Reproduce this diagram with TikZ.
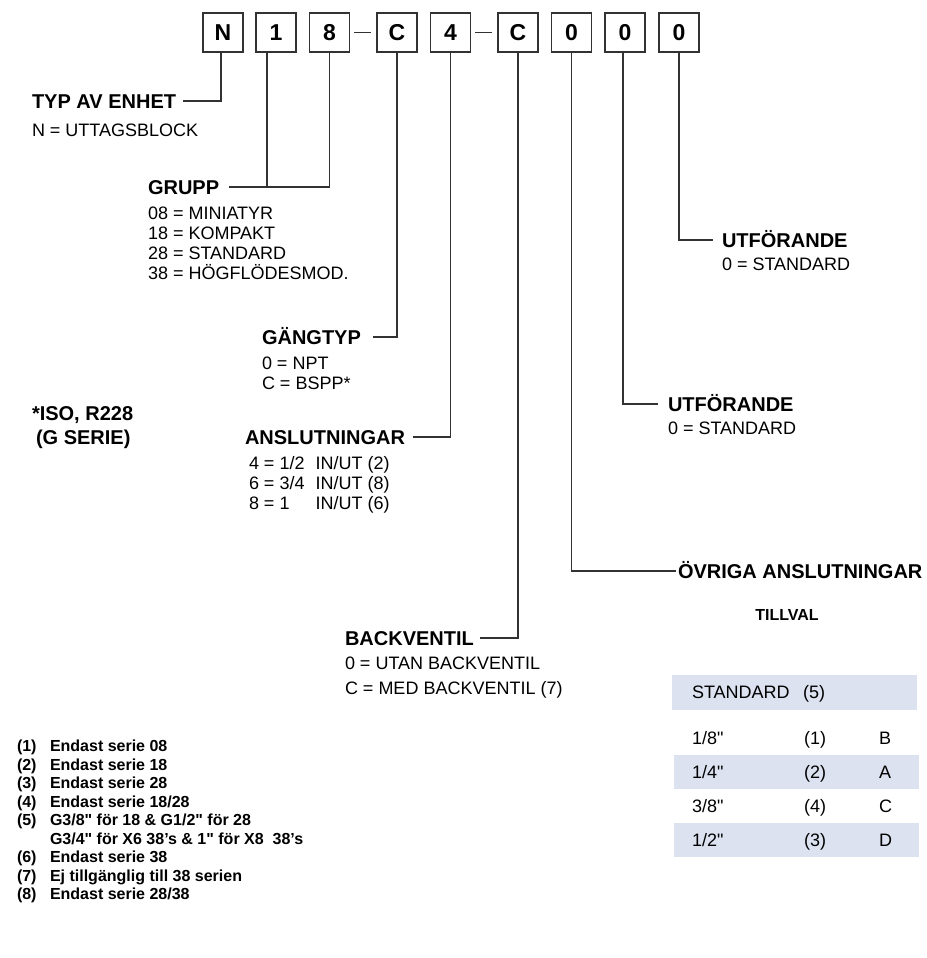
\documentclass[tikz,border=0pt]{standalone}
\usepackage{fontspec}
\setmainfont{Liberation Sans}[Ligatures=TeXOff]
\definecolor{band}{RGB}{220,226,240}
\definecolor{ln}{RGB}{50,50,50}
\newcommand\colw[1]{\makebox[36pt][l]{#1}}
\begin{document}
\begin{tikzpicture}[x=1pt,y=-1pt,
  digit/.style={draw=ln, line width=1.3pt, minimum width=40pt, minimum height=39pt, inner sep=0pt, font=\fontsize{23}{26}\selectfont\bfseries},
  head/.style={anchor=west, inner sep=0pt, outer sep=0pt, text height=14pt, text depth=0pt, font=\fontsize{20}{24}\selectfont\bfseries},
  val/.style={anchor=west, inner sep=0pt, outer sep=0pt, text height=13pt, text depth=0pt, font=\fontsize{18}{20}\selectfont},
  note/.style={anchor=west, inner sep=0pt, outer sep=0pt, text height=11.5pt, text depth=0pt, font=\fontsize{16}{18}\selectfont\bfseries},
  conn/.style={draw=ln, line width=1.1pt}]
\useasboundingbox (0,0) rectangle (926,958);
% code boxes
\node[digit] (bN) at (223,32.5) {N};
\node[digit] (b1) at (276,32.5) {1};
\node[digit] (b8) at (329.5,32.5) {8};
\node[digit] (bC1) at (397,32.5) {C};
\node[digit] (b4) at (450.5,32.5) {4};
\node[digit] (bC2) at (518,32.5) {C};
\node[digit] (b01) at (571.5,32.5) {0};
\node[digit] (b02) at (625,32.5) {0};
\node[digit] (b03) at (679,32.5) {0};
\draw[conn, shorten <=4pt, shorten >=5pt] (b8.east) -- (bC1.west);
\draw[conn, shorten <=4pt, shorten >=5pt] (b4.east) -- (bC2.west);
% labels
\node[head] (typ) at (32,101) {TYP AV ENHET};
\node[val] (typv) at (32,130) {N = UTTAGSBLOCK};
\node[head] (grupp) at (148,187) {GRUPP};
\node[val] (g1) at (148,213) {08 = MINIATYR};
\node[val] (g2) at (148,233) {18 = KOMPAKT};
\node[val] (g3) at (148,253) {28 = STANDARD};
\node[val] (g4) at (148,273) {38 = HÖGFLÖDESMOD.};
\node[head] (gang) at (262,337) {GÄNGTYP};
\node[val] (gv1) at (262,363) {0 = NPT};
\node[val] (gv2) at (262,383) {C = BSPP*};
\node[head] (iso1) at (32,413) {*ISO, R228};
\node[head] (iso2) at (36,437) {(G SERIE)};
\node[head] (ansl) at (245,437) {ANSLUTNINGAR};
\node[val] (a1) at (249,463) {4 = \colw{1/2}IN/UT (2)};
\node[val] (a2) at (249,483) {6 = \colw{3/4}IN/UT (8)};
\node[val] (a3) at (249,503) {8 = \colw{1}IN/UT (6)};
\node[head] (backv) at (345,638) {BACKVENTIL};
\node[val] (bv1) at (345,663) {0 = UTAN BACKVENTIL};
\node[val] (bv2) at (345,688) {C = MED BACKVENTIL (7)};
\node[head] (utf1) at (722,240) {UTFÖRANDE};
\node[val] (utf1v) at (722,264) {0 = STANDARD};
\node[head] (utf2) at (668,404) {UTFÖRANDE};
\node[val] (utf2v) at (668,428) {0 = STANDARD};
\node[head] (ovr) at (678,571) {ÖVRIGA ANSLUTNINGAR};
\node[inner sep=0pt, text height=11.5pt, text depth=0pt, font=\fontsize{16}{18}\selectfont\bfseries] (till) at (787,615) {TILLVAL};
% connectors
\draw[conn, shorten >=7pt] ([xshift=-2pt]bN.south) |- (typ.east);
\draw[conn, shorten >=10pt] (b8.south) |- (grupp.east);
\draw[conn] ([xshift=-9pt]b1.south) -- ([xshift=-9pt]b1.south |- grupp.east);
\draw[conn, shorten >=12pt] (bC1.south) |- (gang.east);
\draw[conn, shorten >=8pt] (b4.south) |- (ansl.east);
\draw[conn, shorten >=6pt] (bC2.south) |- (backv.east);
\draw[conn, shorten >=2pt] (b01.south) |- (ovr.west);
\draw[conn, shorten >=10pt] ([xshift=-2pt]b02.south) |- (utf2.west);
\draw[conn, shorten >=9pt] (b03.south) |- (utf1.west);
% table
\fill[band] (672,675) rectangle (917,710);
\fill[band] (674,755) rectangle (919,789);
\fill[band] (674,823) rectangle (919,857);
\node[val] (th) at (692,692) {STANDARD};
\node[val] (th5) at (803,692) {(5)};
\node[val] (r1a) at (692,738) {1/8"};
\node[val] (r1b) at (804,738) {(1)};
\node[val] (r1c) at (879,738) {B};
\node[val] (r2a) at (692,772) {1/4"};
\node[val] (r2b) at (804,772) {(2)};
\node[val] (r2c) at (879,772) {A};
\node[val] (r3a) at (692,806) {3/8"};
\node[val] (r3b) at (804,806) {(4)};
\node[val] (r3c) at (879,806) {C};
\node[val] (r4a) at (692,840) {1/2"};
\node[val] (r4b) at (804,840) {(3)};
\node[val] (r4c) at (879,840) {D};
% footnotes
\node[note] (n1) at (17,746) {(1)};
\node[note] (t1) at (50,746) {Endast serie 08};
\node[note] (n2) at (17,764.5) {(2)};
\node[note] (t2) at (50,764.5) {Endast serie 18};
\node[note] (n3) at (17,783) {(3)};
\node[note] (t3) at (50,783) {Endast serie 28};
\node[note] (n4) at (17,801.5) {(4)};
\node[note] (t4) at (50,801.5) {Endast serie 18/28};
\node[note] (n5) at (17,820) {(5)};
\node[note] (t5) at (50,820) {G3/8" för 18 \& G1/2" för 28};
\node[note] (t5b) at (50,838.5) {G3/4" för X6 38’s \& 1" för X8\ \ 38’s};
\node[note] (n6) at (17,857) {(6)};
\node[note] (t6) at (50,857) {Endast serie 38};
\node[note] (n7) at (17,875.5) {(7)};
\node[note] (t7) at (50,875.5) {Ej tillgänglig till 38 serien};
\node[note] (n8) at (17,894) {(8)};
\node[note] (t8) at (50,894) {Endast serie 28/38};
\end{tikzpicture}
\end{document}
